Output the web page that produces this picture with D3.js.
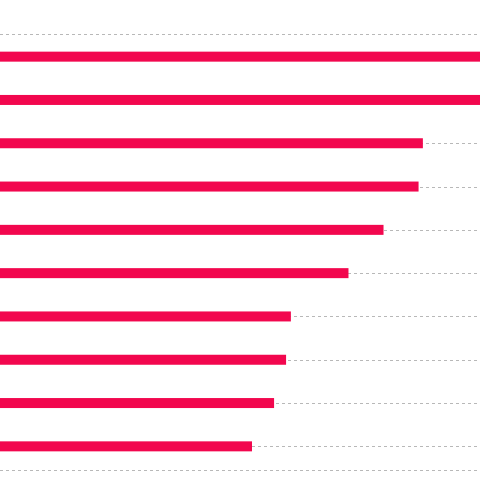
<!DOCTYPE html>
<html>
<head>
<meta charset="utf-8">
<script src="https://cdn.jsdelivr.net/npm/d3@7"></script>
<style>
  body { margin: 0; background: #fff; }
</style>
</head>
<body>
<svg class="chart"></svg>
<script>
  // categories top to bottom
  var categories = ["a", "b", "c", "d", "e", "f", "g", "h", "i", "j"];
  var values = [112, 108, 88.1, 87.2, 79.9, 72.6, 60.6, 59.6, 57.1, 52.5];

  var width = 480;
  var height = 480;

  var svg = d3
    .select(".chart")
    .attr("width", width)
    .attr("height", height);

  var x = d3.scaleLinear().domain([0, 100]).range([0, width]);
  var y = d3.scaleBand().domain(categories).range([35, 468]);

  // dashed guides: one through every bar plus top and bottom edges
  var guides = categories.map(function (d) {
    return y(d) + y.bandwidth() / 2;
  });
  guides.push(y.range()[0] - 1.5, y.range()[1] + 1.5);

  svg
    .selectAll("line.guide")
    .data(guides)
    .enter()
    .append("line")
    .attr("class", "guide")
    .attr("x1", 0)
    .attr("x2", width)
    .attr("y1", function (d) { return Math.round(d) + 0.5; })
    .attr("y2", function (d) { return Math.round(d) + 0.5; })
    .style("stroke", "#b8b8b8")
    .style("stroke-width", 1)
    .style("stroke-dasharray", "3,3");

  svg
    .selectAll("rect.bar")
    .data(values)
    .enter()
    .append("rect")
    .attr("class", "bar")
    .attr("x", x(0))
    .attr("y", function (d, i) {
      return y(categories[i]) + y.bandwidth() / 2 - 5;
    })
    .attr("width", function (d) { return x(d) - x(0); })
    .attr("height", 10)
    .style("fill", "#f2074e");
</script>
</body>
</html>
